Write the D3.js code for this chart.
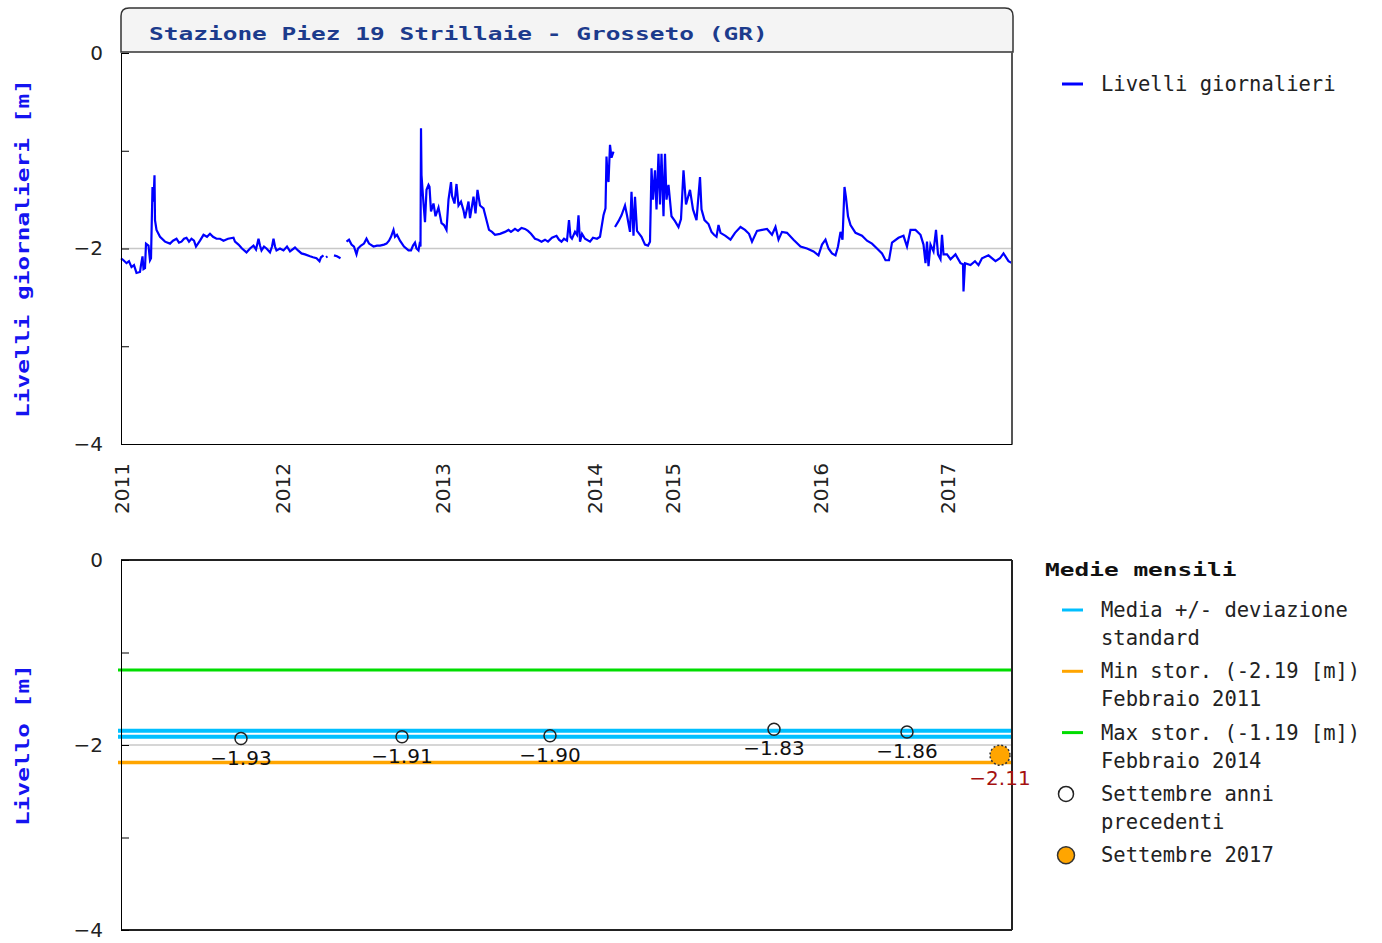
<!DOCTYPE html>
<html>
<head>
<meta charset="utf-8">
<script src="https://cdn.jsdelivr.net/npm/d3@7"></script>
<style>
	body { margin: 0; background: #fff; }
	svg { display: block; }
	.tick text { font-family: "DejaVu Sans", sans-serif; font-size: 20px; fill: #222; }
	.mono { font-family: "DejaVu Sans Mono", monospace; font-size: 20.5px; fill: #222; }
	.bigbold { font-family: "DejaVu Sans Mono", monospace; font-weight: bold; font-size: 18.5px; }
</style>
</head>
<body>
<svg id="chart" width="1382" height="943"></svg>
<script>

// Daily levels [observation number, level in m]; null marks a gap in the record
var dailyLevels = [
	[0,-2.10],[5,-2.12],[11,-2.15],[16,-2.13],[21,-2.19],[26,-2.17],[31,-2.25],[38,-2.24],[40,-2.17],[43,-2.08],
	[45,-2.21],[48,-2.20],[50,-1.95],[55,-1.97],[58,-2.12],[60,-2.10],[63,-1.37],[65,-1.52],[67,-1.25],[68,-1.71],
	[71,-1.81],[78,-1.88],[88,-1.93],[98,-1.95],[104,-1.92],[111,-1.90],[116,-1.94],[121,-1.93],[126,-1.90],[131,-1.89],
	[136,-1.93],[141,-1.90],[146,-1.92],[150,-1.98],[158,-1.92],[165,-1.86],[172,-1.88],[178,-1.85],[184,-1.88],[191,-1.90],
	[198,-1.90],[205,-1.92],[214,-1.90],[225,-1.89],[228,-1.93],[235,-1.96],[242,-2.00],[251,-2.04],[258,-2.00],[265,-1.97],
	[270,-2.01],[275,-1.90],[278,-1.97],[281,-2.02],[286,-1.98],[291,-2.00],[298,-2.04],[302,-1.98],[305,-1.90],[308,-1.98],
	[311,-2.02],[318,-2.00],[325,-2.02],[332,-1.98],[338,-2.03],[348,-1.99],[354,-2.02],[361,-2.05],[368,-2.06],[378,-2.08],
	[384,-2.09],[391,-2.10],[397,-2.13],[400,-2.09],[405,-2.07],[408,null],[410,-2.09],[413,-2.08],[416,null],[426,-2.07],
	[432,-2.08],[439,-2.10],[442,null],[451,-1.93],[456,-1.91],[461,-1.96],[466,-1.98],[471,-2.06],[474,-2.00],[480,-1.97],
	[486,-1.95],[491,-1.90],[496,-1.95],[505,-1.98],[512,-1.97],[518,-1.97],[526,-1.96],[531,-1.95],[536,-1.92],[540,-1.88],
	[545,-1.81],[548,-1.88],[552,-1.86],[558,-1.92],[566,-1.98],[575,-2.02],[580,-2.02],[584,-1.97],[588,-1.94],[591,-2.00],
	[595,-2.02],[597,-1.96],[599,-1.98],[600,-0.77],[601,-1.25],[605,-1.54],[608,-1.73],[611,-1.40],[615,-1.35],[617,-1.37],
	[620,-1.62],[625,-1.54],[629,-1.67],[635,-1.58],[641,-1.74],[646,-1.76],[651,-1.81],[655,-1.50],[660,-1.32],[662,-1.46],
	[667,-1.54],[671,-1.34],[675,-1.56],[680,-1.52],[685,-1.61],[688,-1.69],[695,-1.52],[698,-1.69],[705,-1.47],[709,-1.64],
	[713,-1.40],[718,-1.56],[725,-1.59],[729,-1.67],[736,-1.81],[742,-1.83],[748,-1.86],[758,-1.85],[768,-1.83],[775,-1.81],
	[780,-1.83],[788,-1.80],[794,-1.82],[801,-1.79],[808,-1.80],[814,-1.82],[820,-1.85],[828,-1.90],[834,-1.91],[841,-1.93],
	[848,-1.91],[854,-1.93],[862,-1.89],[871,-1.87],[876,-1.91],[881,-1.93],[886,-1.90],[892,-1.92],[896,-1.71],[899,-1.88],
	[902,-1.90],[908,-1.83],[912,-1.86],[915,-1.66],[918,-1.93],[922,-1.85],[928,-1.90],[938,-1.93],[944,-1.89],[952,-1.90],
	[958,-1.88],[965,-1.66],[969,-1.59],[971,-1.06],[973,-1.25],[975,-1.32],[978,-0.94],[981,-1.07],[985,-1.01],[987,null],
	[988,-1.78],[995,-1.72],[1001,-1.66],[1008,-1.56],[1012,-1.66],[1018,-1.83],[1021,-1.42],[1025,-1.87],[1028,-1.47],[1032,-1.82],
	[1041,-1.88],[1048,-1.96],[1054,-1.97],[1058,-1.93],[1061,-1.18],[1064,-1.50],[1068,-1.20],[1071,-1.60],[1075,-1.03],[1078,-1.55],
	[1081,-1.03],[1085,-1.67],[1088,-1.03],[1091,-1.50],[1095,-1.35],[1101,-1.67],[1108,-1.72],[1115,-1.78],[1120,-1.70],[1125,-1.20],
	[1130,-1.55],[1138,-1.40],[1144,-1.60],[1151,-1.71],[1158,-1.27],[1161,-1.60],[1167,-1.71],[1175,-1.75],[1181,-1.83],[1186,-1.86],
	[1191,-1.88],[1195,-1.76],[1199,-1.84],[1209,-1.87],[1219,-1.91],[1228,-1.84],[1239,-1.78],[1248,-1.81],[1256,-1.85],[1262,-1.93],
	[1272,-1.82],[1282,-1.81],[1292,-1.80],[1302,-1.86],[1309,-1.78],[1315,-1.91],[1322,-1.83],[1332,-1.84],[1345,-1.91],[1359,-1.98],
	[1372,-2.00],[1385,-2.03],[1395,-2.07],[1402,-1.96],[1409,-1.91],[1415,-2.00],[1422,-2.05],[1429,-2.07],[1434,-1.98],[1439,-1.83],
	[1443,-1.91],[1447,-1.37],[1450,-1.48],[1454,-1.67],[1459,-1.76],[1469,-1.84],[1482,-1.87],[1492,-1.92],[1502,-1.95],[1512,-2.00],
	[1522,-2.05],[1529,-2.12],[1536,-2.12],[1542,-1.94],[1555,-1.89],[1565,-1.87],[1572,-1.98],[1579,-1.81],[1589,-1.81],[1599,-1.86],
	[1605,-1.96],[1609,-2.15],[1612,-1.93],[1615,-2.18],[1619,-1.96],[1625,-2.03],[1630,-1.81],[1634,-2.06],[1639,-2.11],[1642,-1.86],
	[1645,-2.06],[1652,-2.06],[1659,-2.11],[1669,-2.06],[1679,-2.15],[1684,-2.16],[1685,-2.44],[1688,-2.15],[1699,-2.17],[1708,-2.13],
	[1715,-2.17],[1722,-2.10],[1735,-2.07],[1749,-2.13],[1758,-2.10],[1765,-2.05],[1775,-2.13],[1782,-2.15]
];
var lastObs = 1782;

// year labels and the observation number where each year starts
var yearLabels = ["2011", "2012", "2013", "2014", "2015", "2016", "2017"];
var yearStartObs = [0, 322, 642, 946, 1102, 1398, 1652];

// September monthly means of previous years
var septObs = [240, 562, 858, 1306, 1572];
var septLevels = [-1.93, -1.91, -1.90, -1.83, -1.86];
// current September
var currentObs = [1758];
var currentLevels = [-2.11];

// reference lines of the monthly means
var meanStdBand = [-1.845, -1.91];
var histMin = -2.19;
var histMax = -1.19;

var yTicks = [0, -1, -2, -3, -4];

var title = "Stazione Piez 19 Strillaie - Grosseto (GR)";
var topAxisTitle = "Livelli giornalieri [m]";
var bottomAxisTitle = "Livello [m]";
var topLegend = ["Livelli giornalieri"];
var bottomLegendTitle = "Medie mensili";
var bottomLegend = [
	{kind: "line", color: "#00bfff", lines: ["Media +/- deviazione", "standard"]},
	{kind: "line", color: "#ffa500", lines: ["Min stor. (-2.19 [m])", "Febbraio 2011"]},
	{kind: "line", color: "#00dd00", lines: ["Max stor. (-1.19 [m])", "Febbraio 2014"]},
	{kind: "open", lines: ["Settembre anni", "precedenti"]},
	{kind: "filled", lines: ["Settembre 2017"]}
];

var svg = d3.select("#chart");

var left = 121, right = 1012;
var top1 = 53, bottom1 = 444;
var top2 = 560, bottom2 = 930;

var x = d3.scaleLinear().domain([0, lastObs]).range([left, right]);
var y1 = d3.scaleLinear().domain([0, -4]).range([top1, bottom1]);
var y2 = d3.scaleLinear().domain([0, -4]).range([top2, bottom2]);

function fmtTick(d) {
	if (d % 2 !== 0) return "";
	return d3.format("d")(d);
}

// the bold captions come from a wide bitmap font, so stretch the glyphs to the same length
function boldText(sel, str) {
	return sel.attr("class", "bigbold")
		.attr("textLength", str.length * 14.73)
		.attr("lengthAdjust", "spacingAndGlyphs")
		.text(str);
}

// ---------- top chart ----------

// title box with rounded top corners
var r = 8, tb = 8;
svg.append("path")
	.attr("d", "M" + left + "," + (top1 - 1) + "V" + (tb + r) + "Q" + left + "," + tb + " " + (left + r) + "," + tb +
		"H" + (right + 1 - r) + "Q" + (right + 1) + "," + tb + " " + (right + 1) + "," + (tb + r) + "V" + (top1 - 1) + "Z")
	.attr("fill", "#f4f4f4")
	.attr("stroke", "#333")
	.attr("stroke-width", 1.5);

svg.append("text")
	.attr("x", 149)
	.attr("y", 40)
	.attr("fill", "#1c3b8c")
	.call(boldText, title);

// gridline at -2
svg.append("line")
	.attr("x1", left).attr("x2", right)
	.attr("y1", y1(-2)).attr("y2", y1(-2))
	.attr("stroke", "#c8c8c8").attr("stroke-width", 1.5);

var line = d3.line()
	.defined(function(d) { return d[1] !== null; })
	.x(function(d) { return x(d[0]); })
	.y(function(d) { return y1(d[1]); });

svg.append("path")
	.datum(dailyLevels)
	.attr("d", line)
	.attr("fill", "none")
	.attr("stroke", "#0000ff")
	.attr("stroke-width", 2.2);

// frame
svg.append("line")
	.attr("x1", right).attr("x2", right).attr("y1", top1 - 1).attr("y2", bottom1)
	.attr("stroke", "#555").attr("stroke-width", 2);

svg.append("g")
	.attr("transform", "translate(" + left + ",0)")
	.call(d3.axisLeft(y1).tickValues(yTicks).tickFormat(fmtTick).tickSizeInner(-8).tickSizeOuter(0).tickPadding(18));

var xAxis1 = svg.append("g")
	.attr("transform", "translate(0," + bottom1 + ")")
	.call(d3.axisBottom(x).tickValues(yearStartObs).tickFormat(function(d, i) { return yearLabels[i]; }).tickSize(0));

xAxis1.selectAll("text")
	.attr("transform", "rotate(-90)")
	.attr("text-anchor", "end")
	.attr("x", -19)
	.attr("y", 0)
	.attr("dy", "0.35em");

svg.append("text")
	.attr("fill", "#1414f0")
	.attr("text-anchor", "middle")
	.attr("transform", "translate(29," + ((top1 + bottom1) / 2) + ") rotate(-90)")
	.call(boldText, topAxisTitle);

// top legend
var lg1 = svg.append("g");
lg1.selectAll("line").data(topLegend).enter().append("line")
	.attr("x1", 1062).attr("x2", 1083)
	.attr("y1", function(d, i) { return 84 + i * 30; })
	.attr("y2", function(d, i) { return 84 + i * 30; })
	.attr("stroke", "#0000ff").attr("stroke-width", 3);
lg1.selectAll("text").data(topLegend).enter().append("text")
	.attr("class", "mono")
	.attr("x", 1101)
	.attr("y", function(d, i) { return 91 + i * 30; })
	.text(function(d) { return d; });

// ---------- bottom chart ----------

svg.append("line")
	.attr("x1", left).attr("x2", right)
	.attr("y1", y2(-2)).attr("y2", y2(-2))
	.attr("stroke", "#c8c8c8").attr("stroke-width", 1.5);

var refLines = [
	{v: meanStdBand[0], color: "#00bfff", w: 4},
	{v: meanStdBand[1], color: "#00bfff", w: 4},
	{v: histMin, color: "#ffa500", w: 3.5},
	{v: histMax, color: "#00dd00", w: 3}
];
svg.selectAll(".ref").data(refLines).enter().append("line")
	.attr("class", "ref")
	.attr("x1", left - 3).attr("x2", right)
	.attr("y1", function(d) { return y2(d.v); })
	.attr("y2", function(d) { return y2(d.v); })
	.attr("stroke", function(d) { return d.color; })
	.attr("stroke-width", function(d) { return d.w; });

svg.append("line")
	.attr("x1", left).attr("x2", right).attr("y1", top2).attr("y2", top2)
	.attr("stroke", "#222").attr("stroke-width", 2);
svg.append("line")
	.attr("x1", right).attr("x2", right).attr("y1", top2).attr("y2", bottom2)
	.attr("stroke", "#222").attr("stroke-width", 2);
svg.append("line")
	.attr("x1", left).attr("x2", right).attr("y1", bottom2).attr("y2", bottom2)
	.attr("stroke", "#222").attr("stroke-width", 2);

svg.append("g")
	.attr("transform", "translate(" + left + ",0)")
	.call(d3.axisLeft(y2).tickValues(yTicks).tickFormat(fmtTick).tickSizeInner(-8).tickSizeOuter(0).tickPadding(18));

svg.append("text")
	.attr("fill", "#1414f0")
	.attr("text-anchor", "middle")
	.attr("transform", "translate(29," + ((top2 + bottom2) / 2) + ") rotate(-90)")
	.call(boldText, bottomAxisTitle);

var sept = septObs.map(function(o, i) { return [o, septLevels[i]]; });
svg.selectAll(".sept").data(sept).enter().append("circle")
	.attr("class", "sept")
	.attr("cx", function(d) { return x(d[0]); })
	.attr("cy", function(d) { return y2(d[1]); })
	.attr("r", 6)
	.attr("fill", "none")
	.attr("stroke", "#222")
	.attr("stroke-width", 1.5);
svg.selectAll(".septlab").data(sept).enter().append("text")
	.attr("class", "septlab")
	.attr("x", function(d) { return x(d[0]); })
	.attr("y", function(d) { return y2(d[1]) + 26; })
	.attr("text-anchor", "middle")
	.style("font-family", "DejaVu Sans").style("font-size", "20px").style("fill", "#111")
	.text(function(d) { return d3.format(".2f")(d[1]); });

var curr = currentObs.map(function(o, i) { return [o, currentLevels[i]]; });
svg.selectAll(".curr").data(curr).enter().append("circle")
	.attr("class", "curr")
	.attr("cx", function(d) { return x(d[0]); })
	.attr("cy", function(d) { return y2(d[1]); })
	.attr("r", 10)
	.attr("fill", "#ffa500")
	.attr("stroke", "#333")
	.attr("stroke-width", 1.5)
	.attr("stroke-dasharray", "2,2");
svg.selectAll(".currlab").data(curr).enter().append("text")
	.attr("class", "currlab")
	.attr("x", function(d) { return x(d[0]); })
	.attr("y", function(d) { return y2(d[1]) + 30; })
	.attr("text-anchor", "middle")
	.style("font-family", "DejaVu Sans").style("font-size", "20px").style("fill", "#a51010")
	.text(function(d) { return d3.format(".2f")(d[1]); });

// bottom legend
svg.append("text")
	.attr("fill", "#111")
	.attr("x", 1045)
	.attr("y", 576)
	.call(boldText, bottomLegendTitle);

var item = svg.selectAll(".item").data(bottomLegend).enter().append("g")
	.attr("class", "item")
	.attr("transform", function(d, i) { return "translate(0," + (610 + i * 61.3) + ")"; });

item.filter(function(d) { return d.kind === "line"; }).append("line")
	.attr("x1", 1062).attr("x2", 1083).attr("y1", 0).attr("y2", 0)
	.attr("stroke", function(d) { return d.color; })
	.attr("stroke-width", 3);
item.filter(function(d) { return d.kind === "open"; }).append("circle")
	.attr("cx", 1066).attr("cy", 0).attr("r", 7.5)
	.attr("fill", "#fff").attr("stroke", "#222").attr("stroke-width", 1.5);
item.filter(function(d) { return d.kind === "filled"; }).append("circle")
	.attr("cx", 1066).attr("cy", 0).attr("r", 8.5)
	.attr("fill", "#ffa500").attr("stroke", "#333").attr("stroke-width", 1.5);

item.selectAll("text").data(function(d) { return d.lines; }).enter().append("text")
	.attr("class", "mono")
	.attr("x", 1101)
	.attr("y", function(d, i) { return 7 + i * 28; })
	.text(function(d) { return d; });

</script>
</body>
</html>
